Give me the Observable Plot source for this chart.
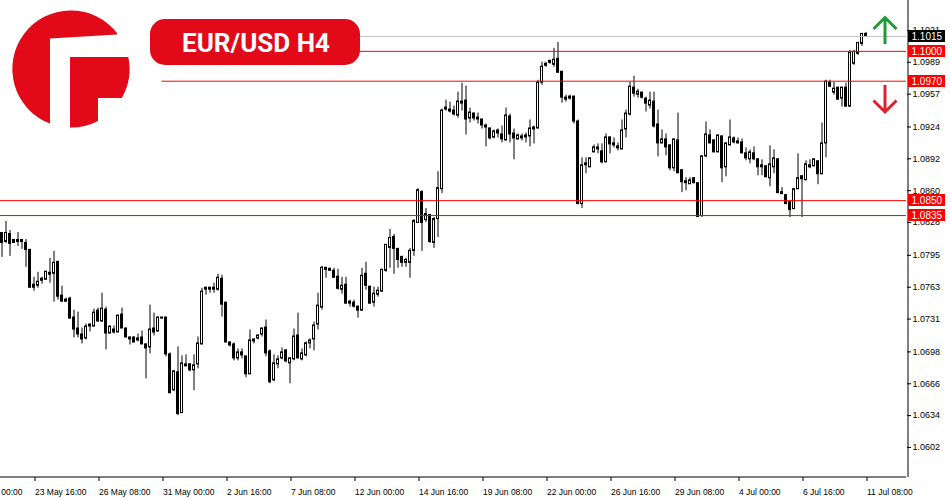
<!DOCTYPE html>
<html>
<head>
<meta charset="utf-8">
<script src="https://cdn.jsdelivr.net/npm/d3@7"></script>
<script src="https://cdn.jsdelivr.net/npm/@observablehq/plot@0.6"></script>
<style>
html, body { margin: 0; padding: 0; background: #fff; }
#chart { width: 950px; height: 500px; overflow: hidden; }
</style>
</head>
<body>
<div id="chart"></div>
<script>
// ---- EUR/USD H4 candles (bar index 0 = 22 May 08:00) ----
const open = [
1.0817,1.0809,1.0816,1.0810,1.0810,1.0810,1.0807,1.0800,1.0765,1.0765,
1.0770,1.0771,1.0776,1.0777,1.0788,1.0754,1.0750,1.0751,1.0732,1.0721,
1.0715,1.0712,1.0724,1.0724,1.0739,1.0729,1.0740,1.0717,1.0720,1.0718,
1.0735,1.0721,1.0712,1.0712,1.0711,1.0712,1.0705,1.0703,1.0721,1.0719,
1.0732,1.0732,1.0695,1.0660,1.0677,1.0637,1.0684,1.0685,1.0680,1.0686,
1.0706,1.0761,1.0761,1.0761,1.0761,1.0771,1.0747,1.0707,1.0705,1.0692,
1.0697,1.0693,1.0676,1.0709,1.0712,1.0716,1.0722,1.0698,1.0670,1.0686,
1.0692,1.0699,1.0687,1.0691,1.0714,1.0691,1.0695,1.0707,1.0711,1.0726,
1.0743,1.0782,1.0780,1.0779,1.0773,1.0761,1.0765,1.0748,1.0747,1.0743,
1.0740,1.0776,1.0763,1.0748,1.0756,1.0759,1.0780,1.0803,1.0813,1.0801,
1.0793,1.0788,1.0788,1.0800,1.0828,1.0858,1.0831,1.0835,1.0808,1.0832,
1.0862,1.0942,1.0940,1.0940,1.0936,1.0949,1.0950,1.0933,1.0937,1.0932,
1.0931,1.0925,1.0922,1.0914,1.0920,1.0916,1.0911,1.0934,1.0917,1.0912,
1.0913,1.0914,1.0915,1.0922,1.0923,1.0969,1.0986,1.0989,1.0987,1.0992,
1.0979,1.0953,1.0954,1.0954,1.0929,1.0847,1.0886,1.0884,1.0899,1.0902,
1.0899,1.0889,1.0913,1.0907,1.0904,1.0902,1.0922,1.0937,1.0963,1.0957,
1.0958,1.0952,1.0946,1.0949,1.0926,1.0908,1.0911,1.0905,1.0883,1.0910,
1.0880,1.0868,1.0867,1.0872,1.0867,1.0835,1.0895,1.0915,1.0910,1.0899,
1.0914,1.0884,1.0906,1.0912,1.0909,1.0908,1.0897,1.0892,1.0897,1.0891,
1.0884,1.0884,1.0873,1.0884,1.0891,1.0858,1.0855,1.0848,1.0842,1.0862,
1.0874,1.0871,1.0884,1.0885,1.0889,1.0877,1.0908,1.0968,1.0959,1.0963,
1.0953,1.0963,1.0945,1.0988,1.0998,1.1008,1.1017];
const high = [
1.0818,1.0829,1.0820,1.0811,1.0818,1.0811,1.0811,1.0801,1.0773,1.0778,
1.0773,1.0779,1.0792,1.0799,1.0788,1.0764,1.0752,1.0753,1.0740,1.0738,
1.0722,1.0726,1.0726,1.0741,1.0742,1.0757,1.0743,1.0724,1.0724,1.0735,
1.0742,1.0722,1.0713,1.0713,1.0716,1.0719,1.0706,1.0745,1.0737,1.0733,
1.0733,1.0733,1.0697,1.0679,1.0703,1.0694,1.0695,1.0686,1.0695,1.0713,
1.0762,1.0763,1.0763,1.0767,1.0776,1.0775,1.0747,1.0708,1.0707,1.0701,
1.0701,1.0693,1.0720,1.0711,1.0715,1.0722,1.0730,1.0700,1.0695,1.0694,
1.0702,1.0700,1.0692,1.0721,1.0737,1.0701,1.0708,1.0711,1.0728,1.0757,
1.0784,1.0783,1.0782,1.0782,1.0781,1.0773,1.0773,1.0750,1.0750,1.0744,
1.0782,1.0788,1.0764,1.0763,1.0763,1.0781,1.0806,1.0821,1.0816,1.0802,
1.0794,1.0792,1.0802,1.0831,1.0862,1.0860,1.0842,1.0836,1.0833,1.0879,
1.0942,1.0951,1.0949,1.0945,1.0959,1.0968,1.0965,1.0943,1.0938,1.0938,
1.0932,1.0927,1.0923,1.0921,1.0922,1.0925,1.0943,1.0937,1.0922,1.0917,
1.0917,1.0918,1.0931,1.0925,1.0971,1.0989,1.0989,1.0991,1.1003,1.1009,
1.0979,1.0956,1.0956,1.0955,1.0931,1.0893,1.0893,1.0893,1.0906,1.0907,
1.0907,1.0917,1.0914,1.0913,1.0908,1.0931,1.0941,1.0969,1.0975,1.0962,
1.0959,1.0954,1.0959,1.0959,1.0941,1.0921,1.0917,1.0906,1.0912,1.0938,
1.0881,1.0873,1.0873,1.0873,1.0868,1.0895,1.0929,1.0921,1.0911,1.0916,
1.0915,1.0908,1.0931,1.0914,1.0913,1.0912,1.0903,1.0901,1.0904,1.0892,
1.0891,1.0885,1.0905,1.0901,1.0892,1.0863,1.0856,1.0848,1.0862,1.0897,
1.0875,1.0890,1.0891,1.0892,1.0890,1.0928,1.0971,1.0971,1.0969,1.0964,
1.0964,1.0968,1.1001,1.1001,1.1009,1.1018,1.1019];
const low = [
1.0793,1.0807,1.0794,1.0807,1.0804,1.0801,1.0783,1.0762,1.0759,1.0762,
1.0766,1.0770,1.0767,1.0748,1.0750,1.0748,1.0748,1.0731,1.0712,1.0712,
1.0706,1.0710,1.0718,1.0723,1.0728,1.0728,1.0700,1.0716,1.0716,1.0718,
1.0722,1.0712,1.0705,1.0707,1.0708,1.0706,1.0671,1.0696,1.0714,1.0718,
1.0731,1.0693,1.0656,1.0658,1.0634,1.0636,1.0683,1.0678,1.0659,1.0681,
1.0705,1.0755,1.0757,1.0757,1.0759,1.0733,1.0707,1.0703,1.0689,1.0689,
1.0691,1.0672,1.0675,1.0706,1.0710,1.0713,1.0693,1.0666,1.0668,1.0681,
1.0690,1.0687,1.0666,1.0689,1.0691,1.0689,1.0693,1.0701,1.0699,1.0720,
1.0740,1.0772,1.0779,1.0772,1.0760,1.0756,1.0746,1.0743,1.0742,1.0732,
1.0739,1.0760,1.0746,1.0743,1.0753,1.0758,1.0778,1.0782,1.0776,1.0782,
1.0783,1.0783,1.0772,1.0794,1.0827,1.0799,1.0828,1.0807,1.0802,1.0813,
1.0857,1.0940,1.0938,1.0935,1.0933,1.0940,1.0916,1.0928,1.0930,1.0927,
1.0922,1.0904,1.0911,1.0912,1.0913,1.0908,1.0910,1.0908,1.0891,1.0911,
1.0910,1.0908,1.0904,1.0907,1.0922,1.0966,1.0984,1.0987,1.0984,1.0978,
1.0948,1.0949,1.0951,1.0927,1.0846,1.0842,1.0877,1.0883,1.0898,1.0897,
1.0887,1.0888,1.0897,1.0903,1.0900,1.0901,1.0913,1.0935,1.0954,1.0953,
1.0952,1.0939,1.0942,1.0923,1.0894,1.0907,1.0895,1.0880,1.0879,1.0877,
1.0858,1.0860,1.0866,1.0867,1.0833,1.0833,1.0893,1.0907,1.0898,1.0898,
1.0868,1.0874,1.0905,1.0907,1.0907,1.0897,1.0890,1.0887,1.0890,1.0875,
1.0875,1.0873,1.0864,1.0877,1.0857,1.0856,1.0846,1.0833,1.0841,1.0861,
1.0833,1.0870,1.0882,1.0884,1.0866,1.0876,1.0893,1.0964,1.0956,1.0951,
1.0944,1.0944,1.0944,1.0986,1.0996,1.1005,1.1015];
const close = [
1.0808,1.0817,1.0807,1.0808,1.0809,1.0809,1.0801,1.0763,1.0763,1.0768,
1.0771,1.0778,1.0777,1.0787,1.0754,1.0749,1.0749,1.0732,1.0721,1.0716,
1.0711,1.0723,1.0725,1.0737,1.0729,1.0741,1.0717,1.0723,1.0718,1.0734,
1.0722,1.0713,1.0711,1.0708,1.0710,1.0706,1.0702,1.0720,1.0718,1.0732,
1.0732,1.0696,1.0657,1.0678,1.0636,1.0686,1.0685,1.0680,1.0684,1.0706,
1.0758,1.0762,1.0762,1.0762,1.0772,1.0746,1.0708,1.0705,1.0692,1.0697,
1.0695,1.0676,1.0709,1.0710,1.0714,1.0721,1.0697,1.0668,1.0686,1.0690,
1.0697,1.0689,1.0691,1.0713,1.0692,1.0696,1.0706,1.0709,1.0724,1.0744,
1.0782,1.0781,1.0781,1.0773,1.0762,1.0764,1.0747,1.0747,1.0744,1.0740,
1.0774,1.0765,1.0747,1.0756,1.0759,1.0780,1.0805,1.0812,1.0802,1.0791,
1.0788,1.0790,1.0799,1.0829,1.0860,1.0828,1.0836,1.0809,1.0831,1.0862,
1.0940,1.0943,1.0941,1.0937,1.0949,1.0948,1.0932,1.0938,1.0933,1.0933,
1.0926,1.0924,1.0913,1.0919,1.0918,1.0912,1.0935,1.0917,1.0913,1.0915,
1.0914,1.0915,1.0922,1.0923,1.0968,1.0984,1.0987,1.0990,1.0991,1.0979,
1.0954,1.0952,1.0953,1.0930,1.0847,1.0885,1.0887,1.0892,1.0903,1.0903,
1.0889,1.0913,1.0907,1.0906,1.0903,1.0920,1.0937,1.0964,1.0958,1.0959,
1.0954,1.0948,1.0950,1.0925,1.0908,1.0911,1.0904,1.0883,1.0911,1.0878,
1.0869,1.0869,1.0870,1.0868,1.0834,1.0894,1.0916,1.0908,1.0899,1.0915,
1.0883,1.0907,1.0913,1.0909,1.0908,1.0898,1.0893,1.0898,1.0892,1.0884,
1.0885,1.0874,1.0886,1.0892,1.0858,1.0857,1.0847,1.0841,1.0861,1.0872,
1.0872,1.0886,1.0885,1.0891,1.0877,1.0907,1.0969,1.0965,1.0962,1.0952,
1.0963,1.0945,1.0998,1.0999,1.1008,1.1017,1.1015];

// ---- time axis: bar index of each label, and its text ----
const xTickBars = [-8, 8, 24, 40, 56, 72, 88, 104, 120, 136, 152, 168, 184, 200, 216];
const xTickLabels = ["19 May 00:00", "23 May 16:00", "26 May 08:00", "31 May 00:00", "2 Jun 16:00",
  "7 Jun 08:00", "12 Jun 00:00", "14 Jun 16:00", "19 Jun 08:00", "22 Jun 00:00", "26 Jun 16:00",
  "29 Jun 08:00", "4 Jul 00:00", "6 Jul 16:00", "11 Jul 08:00"];

// ---- price axis tick values ----
const yTicks = [1.1021, 1.0989, 1.0957, 1.0924, 1.0892, 1.0860, 1.0828, 1.0795,
  1.0763, 1.0731, 1.0698, 1.0666, 1.0634, 1.0602];

// ---- horizontal levels ----
const levelPrice = [1.1015, 1.1000, 1.0970, 1.0850, 1.0835];
const levelRole = ["last", "resistance", "resistance", "support", "support"];

const title = "EUR/USD H4";

// ---------------------------------------------------------------
const candles = open.map((o, i) => ({i, open: o, high: high[i], low: low[i], close: close[i]}));
const levels = levelPrice.map((p, k) => ({price: p, role: levelRole[k]}));
const labelOf = new Map(xTickBars.map((b, k) => [b, xTickLabels[k]]));

const xDomain = [-0.375, 226.125];
const yDomain = [1.05718, 1.10511];
const lineStartBar = 40;
const RED = "#ff0000";
const BRAND = "#e20a18";

const chart = Plot.plot({
  width: 950,
  height: 500,
  marginLeft: 0,
  marginRight: 44,
  marginTop: 0,
  marginBottom: 23,
  style: {fontFamily: "'Liberation Sans', Arial, sans-serif", fontSize: "9px", color: "#000", background: "#fff"},
  x: {domain: xDomain, axis: null},
  y: {domain: yDomain, axis: null},
  marks: [
    // wicks
    Plot.ruleX(candles, {x: "i", y1: "low", y2: "high", stroke: "#000", strokeWidth: 1}),
    // bodies
    Plot.rect(candles, {
      x1: d => d.i - 0.25, x2: d => d.i + 0.25,
      y1: "open", y2: "close",
      fill: d => d.close > d.open ? "#fff" : "#000",
      stroke: "#000", strokeWidth: 1,
      insetTop: -0.5, insetBottom: -0.5
    }),
    // levels
    Plot.ruleY(levels.filter(d => d.role !== "support"), {
      y: "price", x1: lineStartBar, x2: xDomain[1],
      stroke: d => d.role === "last" ? "#c0c0c0" : RED, strokeWidth: 1
    }),
    Plot.ruleY(levels.filter(d => d.role === "support"), {
      y: "price", x1: xDomain[0], x2: xDomain[1], stroke: RED, strokeWidth: 1
    }),
    // axes
    Plot.axisY({anchor: "right", ticks: yTicks, tickFormat: d => d.toFixed(4), tickSize: 4, tickPadding: 2, label: null, fontSize: 9}),
    Plot.axisX({anchor: "bottom", ticks: xTickBars, tickFormat: d => labelOf.get(d), tickSize: 4, tickPadding: 7,
      textAnchor: "start", dx: 1, label: null, fontSize: 8.5}),
    Plot.ruleX([xDomain[1]], {stroke: "#000", dx: 1.5}),
    Plot.ruleY([yDomain[0]], {stroke: "#000", dy: -0.5})
  ]
});
document.getElementById("chart").appendChild(chart);

// ---- overlays drawn with the chart's own y scale ----
const svg = d3.select(chart);
const sy = chart.scale("y");

const tags = svg.append("g")
  .attr("font-family", "'Liberation Sans', Arial, sans-serif")
  .attr("font-size", 10)
  .attr("text-anchor", "start");
levels.forEach(d => {
  const y = Math.round(sy.apply(d.price));
  tags.append("rect").attr("x", 908).attr("y", y - 6).attr("width", 37).attr("height", 12)
    .attr("fill", d.role === "last" ? "#000" : RED);
  tags.append("text").attr("x", 911.5).attr("y", y + 3.8).attr("text-anchor", "start")
    .attr("fill", "#fff").text(d.price.toFixed(4));
});

// arrows
const arrows = svg.append("g").attr("fill", "none").attr("stroke-width", 3);
arrows.append("path").attr("d", "M885 44 V18 M873.5 29 L885 17.5 L896.5 29").attr("stroke", "#1e9b36");
arrows.append("path").attr("d", "M885 85 V112 M873.5 100.5 L885 112 L896.5 100.5").attr("stroke", "#e0202a");

// logo
const logo = svg.append("g").attr("fill", BRAND);
logo.append("path").attr("d", "M117 33 A58.5 58.5 0 1 0 50 123.6 L50 38.5 L117 34.5 Z");
logo.append("path").attr("d", "M70 57 L128.3 57 A58.5 58.5 0 0 1 121.8 98 L98 98 L98 120.9 A58.5 58.5 0 0 1 70 127.5 Z");

// title pill
const pill = svg.append("g");
pill.append("rect").attr("x", 150).attr("y", 19).attr("width", 210).attr("height", 46).attr("rx", 15).attr("fill", BRAND);
pill.append("text").attr("x", 256).attr("y", 52).attr("text-anchor", "middle")
  .attr("font-family", "Roboto, 'Liberation Sans', sans-serif").attr("font-weight", 700).attr("font-size", 26)
  .attr("fill", "#fff").text(title);
</script>
</body>
</html>
